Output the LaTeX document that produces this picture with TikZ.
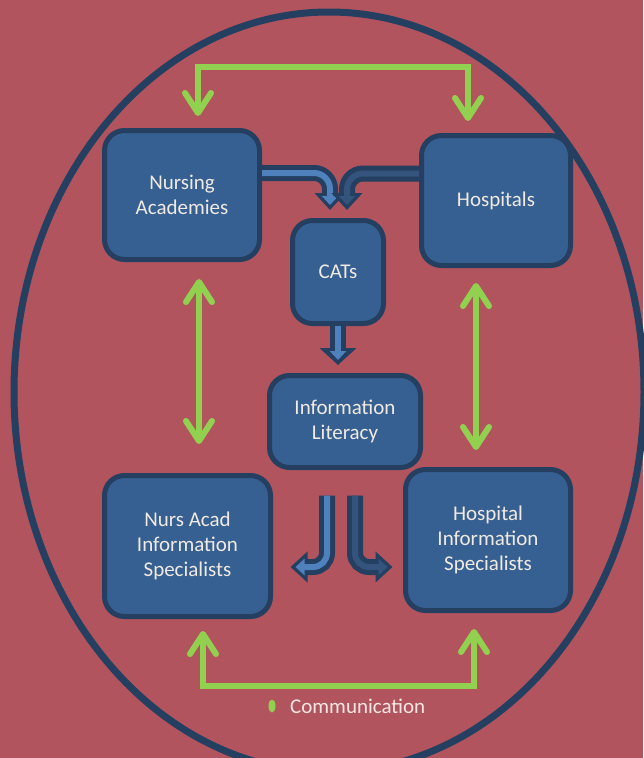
\documentclass[tikz,border=0pt]{standalone}
\usepackage{fontspec}
\setmainfont{Carlito}
\usetikzlibrary{arrows.meta}

\definecolor{bgred}{RGB}{178,84,94}
\definecolor{navy}{RGB}{36,63,96}
\definecolor{boxblue}{RGB}{55,96,146}
\definecolor{flowlight}{RGB}{79,129,189}
\definecolor{flowdeep}{RGB}{52,84,125}
\definecolor{commgreen}{RGB}{146,208,80}
\definecolor{labeltext}{RGB}{240,234,226}
\definecolor{legendtext}{RGB}{248,232,228}

\tikzset{
  unit/.style={draw=navy, fill=boxblue, line width=5pt, rounded corners=20pt,
    align=center, text=labeltext, font=\fontsize{21}{25}\selectfont, inner sep=0pt},
  comm/.style={draw=commgreen, line width=6pt,
    {Straight Barb[length=20pt,width=26pt,round]}-{Straight Barb[length=20pt,width=26pt,round]}},
  flow/.style={line width=6pt, -{Triangle[length=9pt,width=16pt]}, shorten >=5pt,
    preaction={draw=navy, line width=16pt, -{Triangle[length=17pt,width=#1]}, shorten >=0pt}},
  flow/.default=30pt
}

\begin{document}
\begin{tikzpicture}[x=1pt, y=-1pt]
    % Fix the page and paint the background
    \useasboundingbox[fill=bgred] (0,0) rectangle (643,758);

    % Draw the big ring round everything
    \draw[navy, line width=7pt] (329,392) ellipse [x radius=315, y radius=380];

    % Draw the partners and the products
    \node[unit, minimum width=155pt, minimum height=129pt] (nacad) at (182,195) {Nursing\\Academies};
    \node[unit, minimum width=149pt, minimum height=130pt] (hosp) at (496,200.5) {Hospitals};
    \node[unit, minimum width=91pt, minimum height=103pt] (cats) at (338,272) {CATs};
    \node[unit, minimum width=151pt, minimum height=92pt] (infolit) at (345,421.5) {Information\\Literacy};
    \node[unit, minimum width=166pt, minimum height=141pt] (nais) at (187.5,546) {Nurs Acad\\Information\\Specialists};
    \node[unit, minimum width=165pt, minimum height=141pt] (hois) at (488,540) {Hospital\\Information\\Specialists};

    % Feed both partners into the CATs
    \draw[flow, draw=flowlight, rounded corners=16pt] ([yshift=22pt]nacad.east) -| ([xshift=-8pt,yshift=8pt]cats.north);
    \draw[flow, draw=flowdeep, rounded corners=16pt] ([yshift=27pt]hosp.west) -| ([xshift=9pt,yshift=8pt]cats.north);
    \draw[flow=36pt, draw=flowlight] (cats.south) -- ([yshift=8pt]cats.south |- infolit.north);

    % Split the literacy towards the specialists
    \draw[flow, draw=flowlight, rounded corners=14pt] ([xshift=-18pt,yshift=-25.5pt]infolit.south) |- ([xshift=17.5pt,yshift=-21pt]nais.east);
    \draw[flow, draw=flowdeep, rounded corners=14pt] ([xshift=10pt,yshift=-25.5pt]infolit.south) |- ([xshift=-10.5pt,yshift=-27pt]hois.west);

    % Communication lines
    \draw[comm, shorten <=12pt, shorten >=12pt] ([xshift=16pt]nacad.north) -- ++(0,-61.5) -| ([xshift=-28pt]hosp.north);
    \draw[comm, shorten <=17pt, shorten >=29pt] ([xshift=17pt]nacad.south) -- ([xshift=17pt]nacad.south |- nais.north);
    \draw[comm, shorten <=15pt, shorten >=17pt] ([xshift=-20pt]hosp.south) -- ([xshift=-20pt]hosp.south |- hois.north);
    \draw[comm, shorten <=12pt, shorten >=16pt] ([xshift=15.5pt]nais.south) -- ++(0,66.5) -| ([xshift=-14pt]hois.south);

    % Legend
    \node[anchor=base west, inner sep=0pt, text=legendtext, font=\fontsize{21}{25}\selectfont] (commlabel) at (290,713) {Communication};
    \fill[commgreen] ([xshift=-18pt,yshift=7pt]commlabel.base west) ellipse [x radius=3.5, y radius=6.5];
\end{tikzpicture}
\end{document}
